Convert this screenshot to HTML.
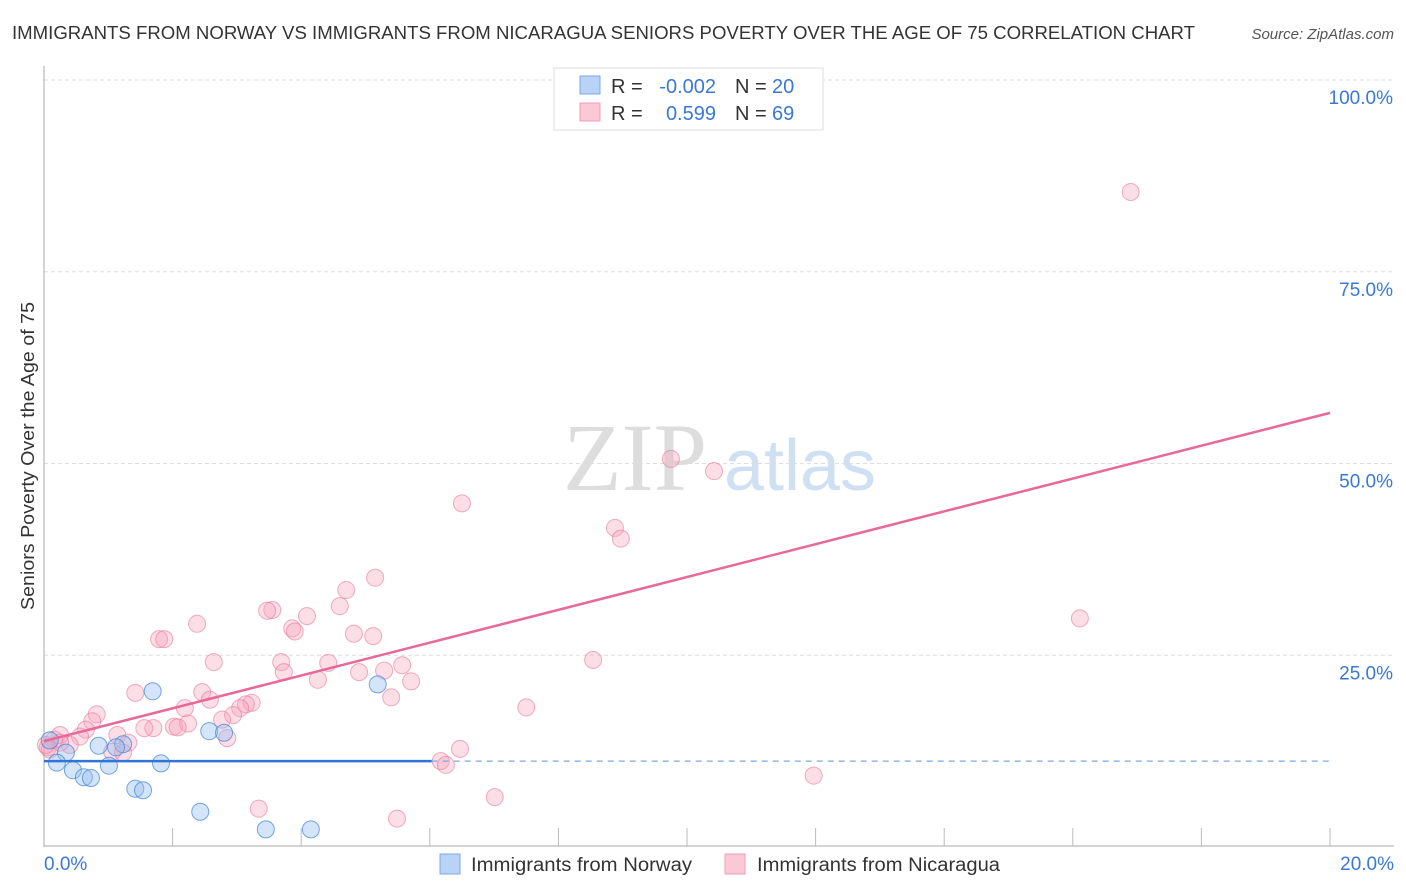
<!DOCTYPE html>
<html><head><meta charset="utf-8">
<style>
body{margin:0;background:#fff;width:1406px;height:892px;overflow:hidden;font-family:"Liberation Sans",sans-serif;}
svg{position:absolute;left:0;top:0}
</style></head>
<body>
<svg id="chart" width="1406" height="892">
  <text x="12" y="39" font-size="18" fill="#333" textLength="1183" lengthAdjust="spacingAndGlyphs">IMMIGRANTS FROM NORWAY VS IMMIGRANTS FROM NICARAGUA SENIORS POVERTY OVER THE AGE OF 75 CORRELATION CHART</text>
  <text x="1394" y="39" font-size="15" fill="#555" font-style="italic" text-anchor="end">Source: ZipAtlas.com</text>
  <text x="34" y="456" font-size="18" fill="#333" text-anchor="middle" textLength="308" lengthAdjust="spacingAndGlyphs" transform="rotate(-90 34 456)">Seniors Poverty Over the Age of 75</text>
  <g>
    <text x="635" y="490" font-size="96" fill="#ddd" font-family="Liberation Serif,serif" text-anchor="middle">ZIP</text>
    <text x="800" y="490" font-size="72" fill="#cfe0f3" text-anchor="middle">atlas</text>
  </g>
  <g id="grid"></g>
  <g id="axes"></g>
  <g id="pts"></g>
  <g id="lines"></g>
  <g>
    <rect x="554" y="68" width="269" height="62" fill="#fff" stroke="#ddd"/>
    <rect x="580" y="76" width="20" height="18" fill="#b8d3f5" stroke="#7aa8e6"/>
    <rect x="580" y="103" width="20" height="18" fill="#fbc8d6" stroke="#ef9fb5"/>
    <text x="611" y="93" font-size="20" fill="#333">R =</text>
    <text x="716" y="93" font-size="20" fill="#3a78d6" text-anchor="end">-0.002</text>
    <text x="735" y="93" font-size="20" fill="#333">N =</text>
    <text x="772" y="93" font-size="20" fill="#3a78d6">20</text>
    <text x="611" y="120" font-size="20" fill="#333">R =</text>
    <text x="716" y="120" font-size="20" fill="#3a78d6" text-anchor="end">0.599</text>
    <text x="735" y="120" font-size="20" fill="#333">N =</text>
    <text x="772" y="120" font-size="20" fill="#3a78d6">69</text>
  </g>
  <g>
    <rect x="440" y="854" width="20" height="20" fill="#b8d3f5" stroke="#7aa8e6"/>
    <text x="471" y="871" font-size="19" fill="#333" textLength="221" lengthAdjust="spacingAndGlyphs">Immigrants from Norway</text>
    <rect x="725" y="854" width="20" height="20" fill="#fbc8d6" stroke="#ef9fb5"/>
    <text x="757" y="871" font-size="19" fill="#333" textLength="243" lengthAdjust="spacingAndGlyphs">Immigrants from Nicaragua</text>
  </g>
</svg>
<script>
const yTicks=[25,50,75,100];
const yTickLabels=["25.0%","50.0%","75.0%","100.0%"];
const xTickLabels=["0.0%","20.0%"];
const norwayX=[1.69,5.19,2.57,2.80,0.85,1.23,1.12,0.34,0.20,1.01,1.82,0.45,0.62,0.73,1.42,1.54,2.43,3.45,4.15,0.09];
const norwayY=[20.3,21.2,15.1,14.9,13.2,13.4,13.0,12.3,11.0,10.6,10.9,10.0,9.1,9.0,7.6,7.4,4.6,2.3,2.3,13.9];
const nicX=[16.90,9.75,10.42,6.50,8.88,8.97,16.11,8.54,7.50,11.97,7.01,5.49,3.34,6.17,6.25,6.47,5.15,4.70,4.60,4.09,3.55,3.47,3.86,3.90,2.38,1.79,1.87,4.82,5.12,2.64,3.69,4.42,3.73,4.90,5.29,5.57,4.26,5.71,5.40,1.42,2.46,2.58,2.19,3.23,3.14,3.05,2.94,2.77,2.24,2.02,2.08,1.70,1.56,0.82,0.75,0.65,0.56,0.25,0.16,0.06,0.09,0.40,1.14,1.31,1.06,1.23,2.85,0.25,0.03];
const nicY=[85.4,50.6,49.0,44.8,41.6,40.2,29.8,24.4,18.2,9.3,6.5,3.7,5.0,11.2,10.7,12.8,35.1,33.5,31.4,30.1,30.9,30.8,28.5,28.1,29.1,27.1,27.1,27.8,27.5,24.1,24.1,24.0,22.8,22.8,23.0,23.7,21.8,21.6,19.5,20.1,20.2,19.2,18.1,18.8,18.6,18.1,17.2,16.6,16.1,15.7,15.6,15.5,15.5,17.3,16.4,15.3,14.4,14.6,14.0,13.0,12.7,13.3,14.6,13.6,12.4,12.3,14.2,13.6,13.3];
const nicTrend=[13.8,56.6];
const norTrend=[11.2,11.2];
const norSolidEnd=6.03;
const X=v=>44+v*64.3, Y=v=>847-v*7.67;
const NS='http://www.w3.org/2000/svg';
function mk(t,a,p){const e=document.createElementNS(NS,t);for(const k in a)e.setAttribute(k,a[k]);p.appendChild(e);return e;}
const grid=document.getElementById('grid'),axes=document.getElementById('axes'),pts=document.getElementById('pts'),lines=document.getElementById('lines');
yTicks.forEach((v,i)=>{
  const g=mk('line',{x1:44,x2:1394,y1:Y(v),y2:Y(v),stroke:'#ddd','stroke-dasharray':'4,3'},grid);
  
  
  const t=mk('text',{x:1393,y:Y(v)+24,'font-size':19,fill:'#3a78d6','text-anchor':'end'},axes);
  t.textContent=yTickLabels[i];
  
  
});
const ya=mk('line',{x1:44,x2:44,y1:66,y2:847,stroke:'#aaa'},axes);


const xa=mk('line',{x1:44,x2:1394,y1:846,y2:846,stroke:'#aaa'},axes);


for(let v=2;v<=20;v+=2){
  const tk=mk('line',{x1:X(v),x2:X(v),y1:828,y2:846,stroke:'#bbb'},axes);
  
  
}
[[0,'start',44],[20,'end',1394]].forEach((o,i)=>{
  const t=mk('text',{x:o[2],y:870,'font-size':19,fill:'#3a78d6','text-anchor':o[1]},axes);
  t.textContent=xTickLabels[i];
  
  
});
nicX.forEach((x,i)=>{
  const c=mk('circle',{cx:X(x),cy:Y(nicY[i]),r:8.5,fill:'rgba(246,160,185,0.35)',stroke:'rgba(232,120,155,0.6)','stroke-width':1},pts);
  
  
});
norwayX.forEach((x,i)=>{
  const c=mk('circle',{cx:X(x),cy:Y(norwayY[i]),r:8.5,fill:'rgba(150,190,240,0.4)',stroke:'rgba(60,130,220,0.7)','stroke-width':1},pts);
  
  
});
const tl=mk('line',{x1:X(0),y1:Y(nicTrend[0]),x2:X(20),y2:Y(nicTrend[1]),stroke:'#e8689a','stroke-width':2.5},lines);


const bl=mk('line',{x1:X(0),y1:Y(norTrend[0]),x2:X(norSolidEnd),y2:Y(norTrend[0]),stroke:'#2f74d6','stroke-width':2.5},lines);


const bd=mk('line',{x1:X(norSolidEnd),y1:Y(norTrend[0]),x2:X(20),y2:Y(norTrend[1]),stroke:'#7aa8e6','stroke-width':1.2,'stroke-dasharray':'6,5'},lines);


</script>
</body></html>
